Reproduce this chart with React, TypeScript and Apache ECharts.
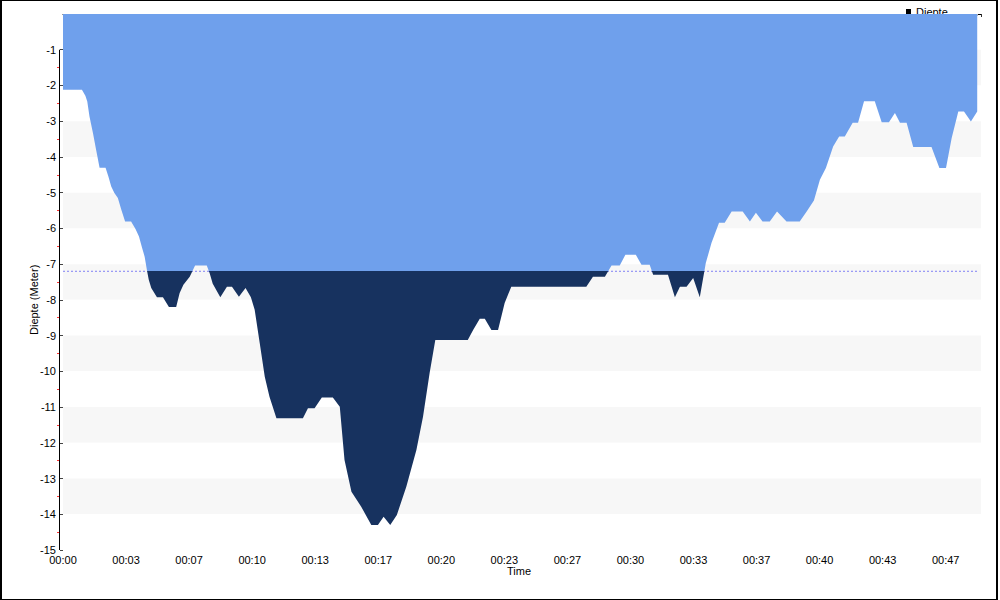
import React, { useEffect, useRef } from 'react';
import * as echarts from 'echarts';

// Time since start of dive, in seconds
const timeSec = [
  0, 60, 71, 77, 84, 95, 105, 116, 135, 144,
  153, 163, 174, 185, 197, 216, 230, 241, 251, 259,
  266, 272, 280, 298, 317, 336, 359, 370, 382, 402,
  419, 456, 465, 475, 499, 520, 536, 558, 579, 596,
  608, 624, 640, 655, 677, 761, 777, 798, 821, 856,
  878, 893, 915, 946, 978, 999, 1017, 1038, 1059, 1089,
  1121, 1142, 1163, 1181, 1284, 1301, 1322, 1338, 1359, 1380,
  1401, 1422, 1660, 1681, 1719, 1740, 1766, 1784, 1817, 1835,
  1861, 1872, 1919, 1941, 1957, 1978, 1999, 2020, 2039, 2057,
  2081, 2099, 2121, 2156, 2179, 2198, 2219, 2242, 2265, 2295,
  2337, 2359, 2382, 2401, 2420, 2443, 2462, 2480, 2505, 2522,
  2541, 2575, 2597, 2620, 2639, 2655, 2676, 2697, 2755, 2780,
  2801, 2819, 2840, 2858, 2880, 2900,
];

// Depth in meters
const depthM = [
  -2.12, -2.12, -2.29, -2.45, -2.87, -3.33, -3.8, -4.3, -4.3, -4.55,
  -4.83, -5.01, -5.15, -5.48, -5.81, -5.81, -6.02, -6.23, -6.55, -6.79,
  -7.16, -7.44, -7.67, -7.93, -7.93, -8.2, -8.2, -7.81, -7.58, -7.35,
  -7.04, -7.04, -7.25, -7.55, -7.93, -7.63, -7.63, -7.91, -7.67, -7.93,
  -8.28, -9.21, -10.15, -10.71, -11.31, -11.31, -11.03, -11.03, -10.73, -10.73,
  -10.99, -12.48, -13.37, -13.79, -14.3, -14.3, -14.07, -14.3, -14.02, -13.23,
  -12.2, -11.27, -10.05, -9.12, -9.12, -8.84, -8.53, -8.53, -8.84, -8.84,
  -8.09, -7.63, -7.63, -7.35, -7.35, -7.04, -7.04, -6.74, -6.74, -7.02,
  -7.02, -7.3, -7.3, -7.93, -7.63, -7.63, -7.39, -7.93, -6.97, -6.41,
  -5.84, -5.84, -5.53, -5.53, -5.81, -5.56, -5.81, -5.81, -5.53, -5.81,
  -5.81, -5.53, -5.22, -4.64, -4.31, -3.71, -3.43, -3.43, -3.04, -3.04,
  -2.44, -2.44, -3.03, -3.03, -2.77, -3.04, -3.04, -3.72, -3.72, -4.31,
  -4.31, -3.47, -2.73, -2.73, -3.01, -2.73,
];

const thresholdDepth = -7.2;
const seriesName = 'Diepte';
const yAxisTitle = 'Diepte (Meter)';
const xAxisTitle = 'Time';
const yMin = -15;
const yMax = 0;
const xMax = 2912;
const xTickStep = 200;
const yMajorTicks = [-1, -2, -3, -4, -5, -6, -7, -8, -9, -10, -11, -12, -13, -14, -15];
const yMinorTicks = [-1.5, -2.5, -3.5, -4.5, -5.5, -6.5, -7.5, -8.5, -9.5, -10.5, -11.5, -12.5, -13.5, -14.5];

const FONT = 'Liberation Sans';

export default function App() {
  const ref = useRef<HTMLDivElement>(null);

  useEffect(() => {
    if (!ref.current) return;
    const chart = echarts.init(ref.current, null, { renderer: 'svg' });
    const data = timeSec.map((t, i) => [t, depthM[i]]);
    const fmtTime = (v: number) => '00:' + String(Math.round(v / 60)).padStart(2, '0');

    chart.setOption({
      animation: false,
      backgroundColor: '#ffffff',
      grid: { left: 63, right: 19, top: 14, bottom: 50 },
      legend: {
        z: 0,
        left: 906,
        top: 6,
        padding: 0,
        icon: 'rect',
        itemWidth: 5,
        itemHeight: 5,
        data: [{ name: seriesName, itemStyle: { color: '#000' } }],
        textStyle: { fontFamily: FONT, fontSize: 11, color: '#000' },
      },
      visualMap: {
        type: 'piecewise',
        show: false,
        dimension: 1,
        seriesIndex: 0,
        pieces: [
          { gte: -100, lte: thresholdDepth, color: '#17325f' },
          { gt: thresholdDepth, lte: 100, color: '#6fa0ec' },
        ],
      },
      xAxis: {
        type: 'value',
        min: 0,
        max: xMax,
        interval: xTickStep,
        name: xAxisTitle,
        nameLocation: 'middle',
        nameGap: 15,
        nameMoveOverlap: false,
        nameTextStyle: { fontFamily: FONT, fontSize: 11, lineHeight: 11, color: '#000', padding: [0, 6, 0, 0] },
        axisLine: { lineStyle: { color: '#000', width: 1 } },
        axisTick: { length: 3, lineStyle: { color: '#333' } },
        minorTick: { show: true, splitNumber: 10, length: 2, lineStyle: { color: '#bbbbbb' } },
        axisLabel: {
          formatter: fmtTime,
          showMaxLabel: false,
          margin: 4,
          lineHeight: 11,
          fontFamily: FONT,
          fontSize: 11,
          color: '#000',
        },
        splitLine: { show: false },
      },
      yAxis: [
        {
          type: 'value',
          min: yMin,
          max: yMax,
          interval: 1,
          offset: 3,
          axisLine: { show: false },
          axisTick: { show: true, length: 3, lineStyle: { color: '#444' }, customValues: yMajorTicks },
          axisLabel: {
            customValues: yMajorTicks,
            margin: 4,
            lineHeight: 11,
            fontFamily: FONT,
            fontSize: 11,
            color: '#000',
          },
          splitLine: { show: false },
          splitArea: { show: true, areaStyle: { color: ['#f7f7f7', '#ffffff'] } },
        },
        {
          type: 'value',
          min: yMin,
          max: yMax,
          interval: 1,
          position: 'left',
          offset: 3,
          axisLine: { show: false },
          axisTick: { show: true, length: 3, lineStyle: { color: '#ff3333' }, customValues: yMinorTicks },
          axisLabel: { show: false },
          splitLine: { show: false },
          splitArea: { show: false },
        },
      ],
      series: [
        {
          name: seriesName,
          type: 'line',
          data,
          symbol: 'none',
          showSymbol: false,
          lineStyle: { width: 0, opacity: 0 },
          areaStyle: { origin: 'end', opacity: 1 },
          z: 3,
        },
        {
          name: 'threshold',
          type: 'line',
          data: [
            [timeSec[0], thresholdDepth],
            [timeSec[timeSec.length - 1], thresholdDepth],
          ],
          symbol: 'none',
          silent: true,
          lineStyle: { type: [2, 2], width: 1, color: '#8080f4' },
          z: 2,
        },
      ],
    });

    const yA = chart.convertToPixel({ yAxisIndex: 0 }, -1) as number;
    const yB = chart.convertToPixel({ yAxisIndex: 0 }, yMin) as number;
    const xL = (chart.convertToPixel({ xAxisIndex: 0 }, 0) as number) - 3;
    chart.setOption({
      graphic: [
        {
          type: 'line',
          shape: { x1: Math.round(xL) - 0.5, y1: yA, x2: Math.round(xL) - 0.5, y2: yB },
          style: { stroke: '#000', lineWidth: 1 },
          z: 10,
        },
        {
          type: 'text',
          x: 34,
          y: (yA + yB) / 2,
          rotation: Math.PI / 2,
          style: {
            text: yAxisTitle,
            fill: '#000',
            font: `11px "${FONT}"`,
            align: 'center',
            verticalAlign: 'middle',
          },
        },
      ],
    });

    return () => chart.dispose();
  }, []);

  return (
    <div style={{ position: 'fixed', left: 0, top: 0, width: 1000, height: 600, background: '#fff' }}>
      <div ref={ref} style={{ position: 'absolute', left: 0, top: 0, width: 1000, height: 600 }} />
      <div
        style={{
          position: 'absolute',
          left: 0,
          top: 0,
          width: 998,
          height: 600,
          boxSizing: 'border-box',
          border: '1px solid #000',
          borderLeftWidth: 2,
          borderRightWidth: 2,
          pointerEvents: 'none',
        }}
      />
    </div>
  );
}
